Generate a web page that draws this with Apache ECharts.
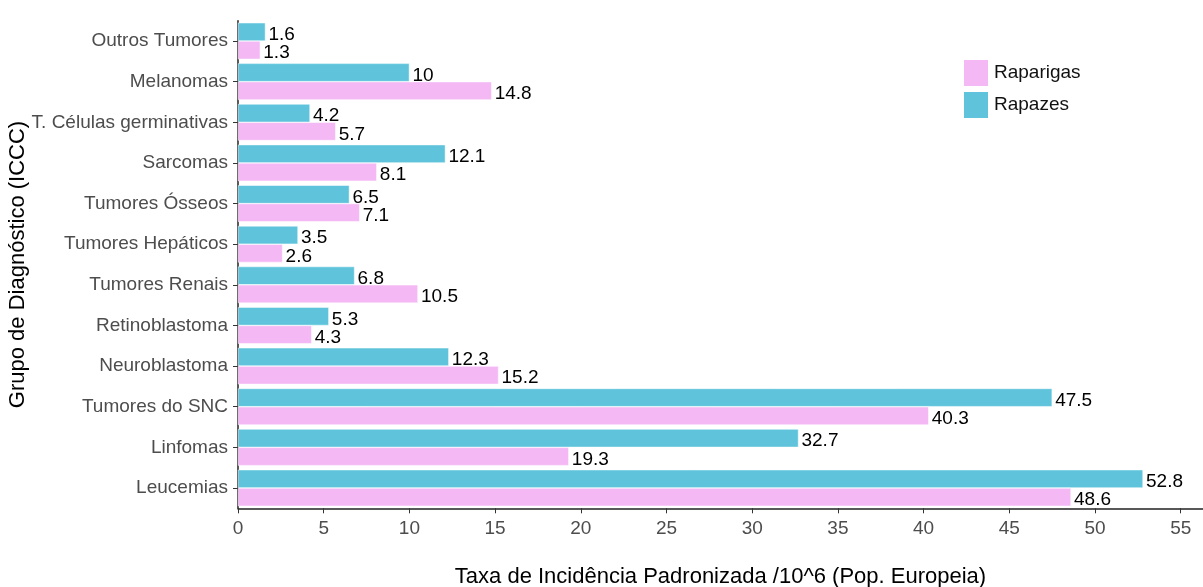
<!DOCTYPE html>
<html>
<head>
<meta charset="utf-8">
<script src="https://cdn.jsdelivr.net/npm/echarts@6/dist/echarts.min.js"></script>
<style>
  html, body { margin: 0; padding: 0; background: #fff; }
  #main { width: 1203px; height: 587px; }
</style>
</head>
<body>
<div id="main"></div>
<script>
// categories bottom -> top
var categories = ['Leucemias', 'Linfomas', 'Tumores do SNC', 'Neuroblastoma', 'Retinoblastoma',
  'Tumores Renais', 'Tumores Hepáticos', 'Tumores Ósseos', 'Sarcomas',
  'T. Células germinativas', 'Melanomas', 'Outros Tumores'];
var raparigas = [48.6, 19.3, 40.3, 15.2, 4.3, 10.5, 2.6, 7.1, 8.1, 5.7, 14.8, 1.3];
var rapazes = [52.8, 32.7, 47.5, 12.3, 5.3, 6.8, 3.5, 6.5, 12.1, 4.2, 10, 1.6];
var xTicks = [0, 5, 10, 15, 20, 25, 30, 35, 40, 45, 50, 55];

var font = 'Liberation Sans, Arial, sans-serif';
var myChart = echarts.init(document.getElementById('main'));

var labelStyle = {
  show: true,
  position: 'right',
  distance: 3,
  offset: [0, 3],
  color: '#000',
  fontSize: 19,
  fontFamily: font
};

var option = {
  animation: false,
  textStyle: { fontFamily: font },
  legend: {
    data: ['Raparigas', 'Rapazes'],
    orient: 'vertical',
    left: 957,
    top: 53,
    itemWidth: 26,
    itemHeight: 28,
    itemGap: 2,
    icon: 'rect',
    textStyle: { fontSize: 19, color: '#111', fontFamily: font }
  },
  grid: { left: 238, right: 0, top: 20.7, bottom: 78.7, containLabel: false, outerBoundsMode: 'none' },
  xAxis: {
    type: 'value',
    min: 0,
    max: 56.3,
    interval: 5,
    splitLine: { show: false },
    axisLine: { show: true, lineStyle: { color: '#222', width: 1.5 } },
    axisTick: { show: true, length: 5, lineStyle: { color: '#333' } },
    axisLabel: {
      color: '#4d4d4d', fontSize: 19, margin: 11, fontFamily: font,
      formatter: function (v) { return xTicks.indexOf(v) >= 0 ? String(v) : ''; }
    },
    name: 'Taxa de Incidência Padronizada /10^6 (Pop. Europeia)',
    nameLocation: 'middle',
    nameGap: 58,
    nameMoveOverlap: false,
    nameTextStyle: { color: '#000', fontSize: 22, fontFamily: font }
  },
  yAxis: {
    type: 'category',
    data: categories,
    axisLine: { show: true, lineStyle: { color: '#222', width: 1.5 } },
    axisTick: { show: true, alignWithLabel: true, length: 5, lineStyle: { color: '#333' } },
    axisLabel: { color: '#4d4d4d', fontSize: 19, margin: 10, fontFamily: font },
    name: 'Grupo de Diagnóstico (ICCC)',
    nameLocation: 'middle',
    nameRotate: 90,
    nameGap: 209,
    nameMoveOverlap: false,
    nameTextStyle: { color: '#000', fontSize: 22, fontFamily: font }
  },
  series: [
    {
      name: 'Rapazes',
      type: 'bar',
      data: rapazes,
      barGap: '0%',
      barCategoryGap: '10%',
      itemStyle: { color: '#5FC4DB', borderColor: '#fff', borderWidth: 0.5 },
      label: labelStyle
    },
    {
      name: 'Raparigas',
      type: 'bar',
      data: raparigas,
      barGap: '0%',
      barCategoryGap: '10%',
      itemStyle: { color: '#F4B9F4', borderColor: '#fff', borderWidth: 0.5 },
      label: labelStyle
    }
  ]
};

myChart.setOption(option);
</script>
</body>
</html>
